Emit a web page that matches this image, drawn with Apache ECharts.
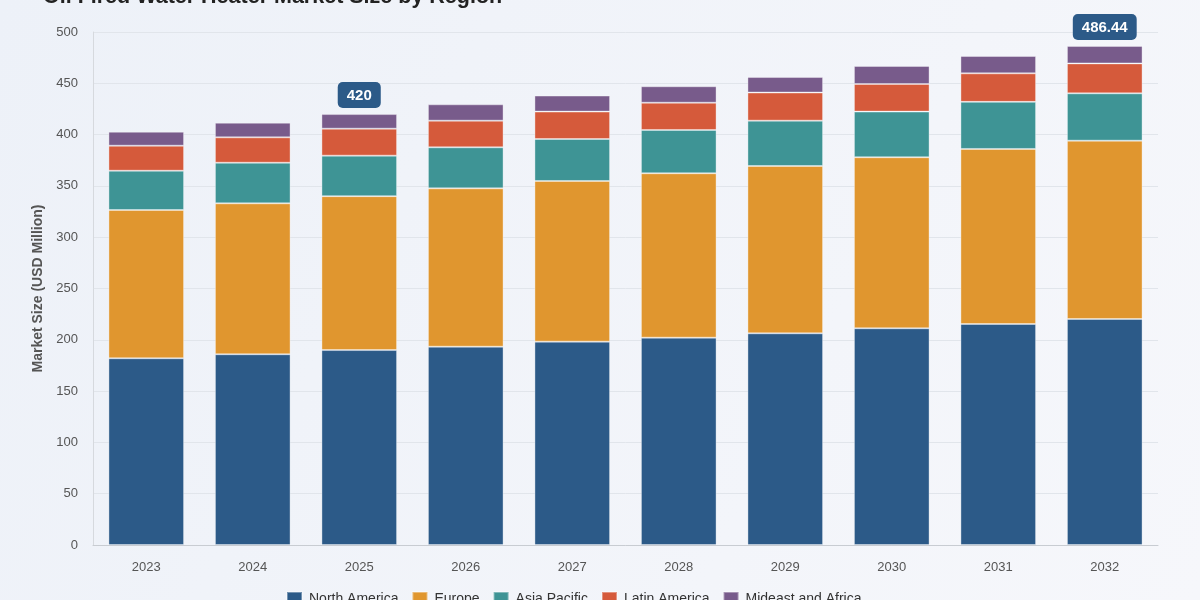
<!DOCTYPE html>
<html>
<head>
<meta charset="utf-8">
<script src="https://cdn.jsdelivr.net/npm/echarts@6/dist/echarts.min.js"></script>
<style>
  html, body { margin: 0; padding: 0; }
  #chart { width: 1200px; height: 600px; }
</style>
</head>
<body>
<div id="chart"></div>
<script>
var years = ["2023", "2024", "2025", "2026", "2027", "2028", "2029", "2030", "2031", "2032"];
var northAmerica = [182.0, 185.9, 190.0, 193.3, 198.2, 202.1, 206.3, 211.2, 215.4, 220.3];
var europe = [144.5, 147.1, 150.0, 154.3, 156.6, 160.2, 163.1, 166.7, 170.6, 173.8];
var asiaPacific = [38.3, 39.6, 39.5, 40.0, 40.9, 42.2, 44.2, 44.5, 45.9, 46.1];
var latinAmerica = [24.4, 24.7, 26.3, 26.0, 26.7, 26.6, 27.4, 26.9, 27.8, 29.2];
var mideastAfrica = [13.6, 14.3, 14.2, 15.9, 15.6, 16.0, 15.1, 17.6, 16.9, 17.04];
var calloutYears = ["2025", "2032"];
var yTicks = { min: 0, max: 500, interval: 50 };

var colors = ["#2c5a88", "#e0962f", "#3e9495", "#d55a3b", "#785b8b"];
var names = ["North America", "Europe", "Asia Pacific", "Latin America", "Mideast and Africa"];
var values = [northAmerica, europe, asiaPacific, latinAmerica, mideastAfrica];

function total(i) {
  var s = 0;
  values.forEach(function (arr) { s += arr[i]; });
  return Math.round(s * 100) / 100;
}

var series = values.map(function (arr, k) {
  var s = {
    name: names[k],
    type: "bar",
    stack: "total",
    barCategoryGap: "29%",
    itemStyle: { color: colors[k], borderColor: "rgba(255,255,255,0.35)", borderWidth: 1 },
    data: arr.slice()
  };
  if (k === values.length - 1) {
    s.data = arr.map(function (v, i) {
      if (calloutYears.indexOf(years[i]) === -1) return v;
      return {
        value: v,
        label: {
          show: true,
          position: "top",
          distance: 6,
          formatter: function () { return String(total(i)); },
          color: "#fff",
          fontSize: 15,
          fontWeight: "bold",
          fontFamily: "Liberation Sans, Arial, sans-serif",
          backgroundColor: "#2c5a88",
          borderRadius: 5,
          padding: [6, 9, 5, 9]
        }
      };
    });
  }
  return s;
});

var chart = echarts.init(document.getElementById("chart"));
chart.setOption({
  backgroundColor: {
    type: "linear", x: 0, y: 0, x2: 1, y2: 1,
    colorStops: [{ offset: 0, color: "#edf1f8" }, { offset: 1, color: "#f6f7fb" }]
  },
  textStyle: { fontFamily: "Liberation Sans, Arial, sans-serif" },
  title: {
    text: "Oil Fired Water Heater Market Size by Region",
    left: 38,
    top: -19,
    textStyle: { fontSize: 21.5, fontWeight: "bold", color: "#222" }
  },
  legend: {
    bottom: -12,
    left: 281,
    itemWidth: 15,
    itemHeight: 14,
    itemGap: 13,
    icon: "rect",
    textStyle: { fontSize: 14, color: "#333", padding: [0, 0, 0, 2] },
    data: names
  },
  grid: { left: 93, right: 42, top: 32, bottom: 55 },
  xAxis: {
    type: "category",
    data: years,
    axisLine: { lineStyle: { color: "#c8ccd2" } },
    axisTick: { show: false },
    axisLabel: { color: "#555", fontSize: 13, margin: 16 }
  },
  yAxis: {
    type: "value",
    min: yTicks.min,
    max: yTicks.max,
    interval: yTicks.interval,
    name: "Market Size (USD Million)",
    nameLocation: "middle",
    nameGap: 47,
    nameTextStyle: { color: "#555", fontSize: 14, fontWeight: "bold" },
    axisLine: { show: true, lineStyle: { color: "#d6d9de" } },
    axisTick: { show: false },
    axisLabel: { color: "#555", fontSize: 13, margin: 15 },
    splitLine: { lineStyle: { color: "#e1e5eb" } }
  },
  series: series
});
</script>
</body>
</html>
